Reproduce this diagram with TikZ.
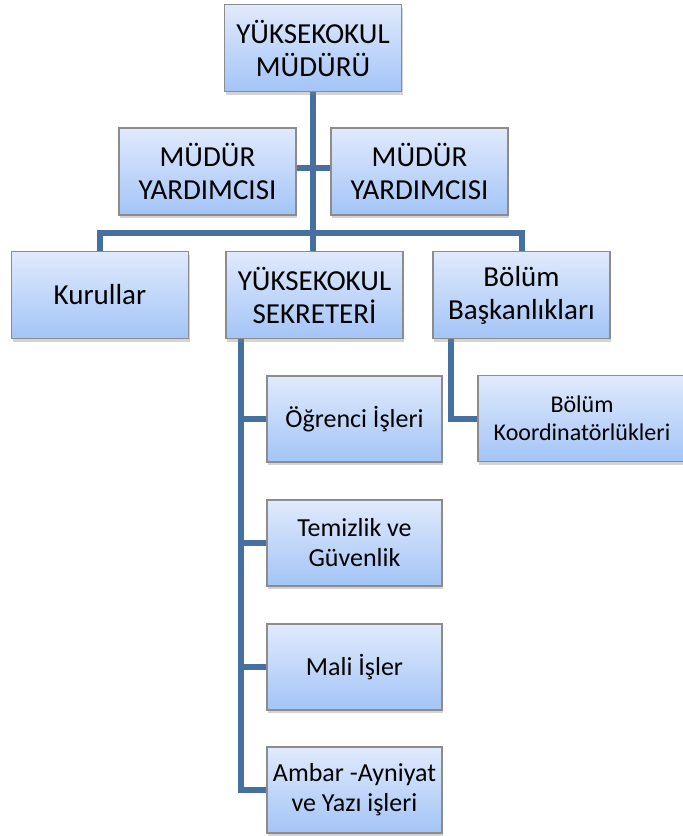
\documentclass[tikz,border=0pt]{standalone}
\usepackage{fontspec}
\setmainfont{Carlito}
\usetikzlibrary{shadows,backgrounds}
\definecolor{linkblue}{RGB}{70,112,160}
\definecolor{boxtop}{RGB}{224,234,252}
\definecolor{boxbottom}{RGB}{163,196,247}
\tikzstyle{unit}=[draw=gray!90,line width=0.6pt,top color=boxtop,bottom color=boxbottom,
  drop shadow={shadow xshift=0.6pt,shadow yshift=-1.6pt,opacity=0.35},
  align=center,inner sep=0pt,minimum width=88.5pt,minimum height=43.5pt,
  font=\fontsize{14.5}{16.5}\selectfont]
\tikzstyle{office}=[unit,minimum width=87.5pt,minimum height=43pt,font=\fontsize{13}{15}\selectfont]
\tikzstyle{link}=[draw=linkblue,line width=3pt]

\begin{document}
\begin{tikzpicture}[x=0.5pt,y=-0.5pt]
  \useasboundingbox (0,0) rectangle (683,836);
  \node [unit] (top) at (313,48) {YÜKSEKOKUL\\MÜDÜRÜ};
  \node [unit] (yrdL) at (207.5,171.5) {MÜDÜR\\YARDIMCISI};
  \node [unit] (yrdR) at (419.5,171.5) {MÜDÜR\\YARDIMCISI};
  \node [unit] (kurullar) at (100,295) {Kurullar};
  \node [unit] (sekreter) at (314.5,295) {YÜKSEKOKUL\\SEKRETERİ};
  \node [unit] (bolum) at (521.5,295) {Bölüm\\Başkanlıkları};
  \node [office] (ogrenci) at (354.5,419) {Öğrenci İşleri};
  \node [office] (temizlik) at (354.5,543) {Temizlik ve\\Güvenlik};
  \node [office] (mali) at (354.5,667) {Mali İşler};
  \node [office] (ambar) at (354.5,790) {Ambar -Ayniyat\\ve Yazı işleri};
  \node [office,minimum width=104pt,font=\fontsize{12}{14}\selectfont] (koord) at (582,418.5) {Bölüm\\Koordinatörlükleri};
  % connectors behind the boxes
  \begin{scope}[on background layer]
    \coordinate (bus) at ([yshift=9pt]top.south |- kurullar.north);
    \draw[link] (top.south) -- (top.south |- sekreter.north);
    \draw[link] ([yshift=2pt]yrdL.east) -- ([yshift=2pt]yrdR.west);
    \draw[link] (kurullar.north) |- (bus) -| (bolum.north);
    \coordinate (sekline) at ([xshift=8pt]sekreter.south west);
    \draw[link] (sekline) |- (ambar.west);
    \foreach \n in {ogrenci,temizlik,mali}
      \draw[link] (sekline |- \n.west) -- (\n.west);
    \draw[link] ([xshift=9.5pt]bolum.south west) |- (koord.west);
  \end{scope}
\end{tikzpicture}
\end{document}
